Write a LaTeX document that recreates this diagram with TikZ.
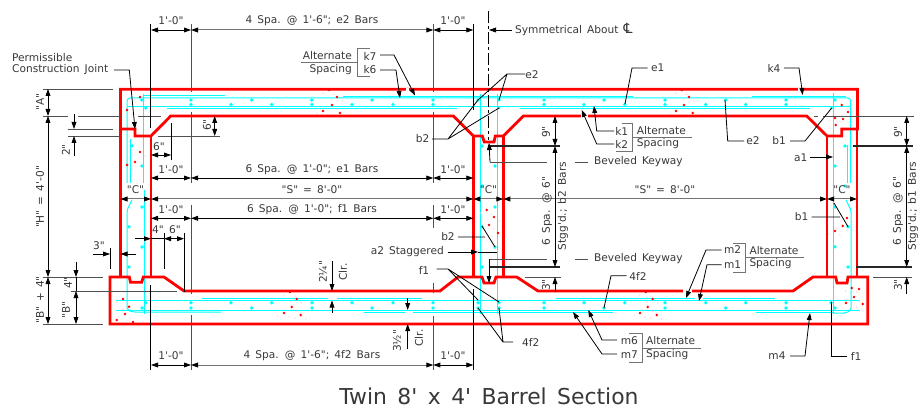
\documentclass[tikz,border=0pt]{standalone}
\usepackage{fontspec}
\usetikzlibrary{arrows.meta}
\newfontfamily\cad{DejaVu Sans}[WordSpace=1.5]
\definecolor{dimgray}{gray}{0.45}
\definecolor{txt}{gray}{0.22}
\definecolor{rebar}{RGB}{0,255,255}
\tikzset{
 concrete/.style={draw=red,line width=2.8pt,line join=miter},
 barline/.style={draw=rebar,line width=1pt},
 barthin/.style={draw=rebar,line width=0.8pt},
 dimline/.style={draw=black,line width=0.8pt},
 dimgrey/.style={draw=dimgray,line width=1pt},
 extline/.style={draw=dimgray!70!black,line width=0.9pt},
 heavy/.style={draw=black!85,line width=1.2pt},
 lead/.style={draw=black,line width=0.8pt},
 tip/.style={-{Triangle[length=7pt,width=4.8pt,color=black]}},
 lab/.style={font=\cad\fontsize{10.6}{10.6}\selectfont,text=txt,inner sep=0pt,anchor=center},
 labl/.style={lab,anchor=west},
 labr/.style={lab,anchor=east},
 rlab/.style={lab,rotate=90},
 both/.style={{Triangle[length=7pt,width=4.8pt,color=black]}-{Triangle[length=7pt,width=4.8pt,color=black]}},
}
\newcommand{\hd}[4][dimline]{\draw[#1,both] (#2,#4) -- (#3,#4);}
\newcommand{\vd}[4][dimline]{\draw[#1,both] (#4,#2) -- (#4,#3);}
\begin{document}
\begin{tikzpicture}[x=1pt,y=-1pt]
\useasboundingbox[fill=white] (0,0) rectangle (919,409);
% rebar
\draw[barline] (143,96) -- (225,96);
\draw[barline,rounded corners=3pt] (127,183) -- (127,98) -- (850.7,98) -- (850.7,183);
\draw[barline] (127,107) -- (851,107);
\draw[barthin] (343,96) -- (633,96) (752,96) -- (846,96);
\draw[barthin] (167,108.7) -- (457,108.7) (520,108.7) -- (810,108.7);
\draw[barline] (143.5,94) -- (143.5,183) (130,139) -- (130,183);
\draw[barline,rounded corners=2pt] (132,200) -- (127,210) -- (127,310) -- (133,312) -- (221,312);
\draw[barline] (144,190) -- (144,314);
\draw[barline] (480,94) -- (480,314) (497,94) -- (497,314);
\draw[barline] (833.3,93) -- (833.3,314) (847,145) -- (847,183);
\draw[barline,rounded corners=2pt] (846,200) -- (851,210) -- (851,310) -- (846,313) -- (833,313);
\draw[barline] (116,300.7) -- (860,300.7) (116,310) -- (860,310);
\draw[barthin] (202,298) -- (328,298) (337,298) -- (421.7,298) (556,298) -- (695,298) (703,298) -- (775,298);
\draw[barthin] (364,312) -- (405,312) (413,312) -- (613,312) (756,312) -- (833,312);
\foreach \p in {141.7,191,251.7,311.7,372,433,478,499,544,604,665,725.7,786,835}{\fill[rebar] (\p,100) circle (1.9pt);}
\foreach \p in {191,231,271.7,312,352,393,433,544,584,624.7,665,705.7,745.7,786}{\fill[rebar] (\p,104.5) circle (1.9pt);}
\fill[rebar] (145.7,108) circle (1.9pt) (499,108) circle (1.5pt) (831.7,108) circle (1.5pt);
\foreach \p/\q in {132/145.7,142/166,142/207,129/226.7,142/247,129/267,482/146,495/166,495/207,482/226.7,495/247,482/267,845/146,835/166,835/207,848/226.7,835/246.7,848/267,482/186,845/186}{\fill[rebar] (\p,\q) circle (1.9pt);}
\foreach \p in {145.7,191,231,271.7,312,352,393,433,478,499,544,584,624.7,665,705.7,745.7,786,831}{\fill[rebar] (\p,302.7) circle (1.9pt);}
\foreach \p in {142,191,251.7,312,372,433,478,499,544,604,665,725.7,786,835}{\fill[rebar] (\p,308) circle (1.9pt);}
% speckles
\foreach \p/\q in {140/97,127/110,140/152,135/162,127/165,123/299,129/306.7,125/314,116.7/320,133/322,329/90,337/97,332/105,323/111,340/113,486.7/210,494/217,489/225,498/233,681.7/90,689/97,684/105,676/111,692.7/113,841.7/105,848/112,835/118,843/119,835.7/125,847/218,835/231,842.7/226,859/289,854/297,862.7/304,846/303,851.7/288,645.7/292,652.7/299,647.7/307,640/313,656.7/315,290/292,296.7/299,291.7/307,284/313,300.7/315}{\fill[red] (\p,\q) circle (1.4pt); \fill[red!25] (\p+5,\q+4) circle (0.6pt); \fill[red!25] (\p-6,\q+3) circle (0.6pt);}
% concrete
\draw[concrete] (120.5,129) -- (120.5,89.3) -- (857.5,89.3) -- (857.5,129) -- (841.7,129) -- (841.7,136) -- (827,136) -- (806.7,116) -- (523.3,116) -- (503.3,136) -- (495.3,136) -- (494,142) -- (484.3,142) -- (482.3,136) -- (473.3,136) -- (453.3,116) -- (170.7,116) -- (151,136) -- (135,136) -- (135,129) -- cycle;
\draw[concrete] (110,277) -- (129.3,277) -- (130.5,282.3) -- (141.7,282.3) -- (143.3,277) -- (164,277) -- (184,291) -- (440,291) -- (458,277) -- (482,277) -- (484,283) -- (494,283) -- (496,277) -- (516.7,277) -- (538,291) -- (793,291) -- (813,277) -- (835.7,277) -- (837,283) -- (847,283) -- (848,277) -- (867.7,277) -- (867.7,324) -- (110,324) -- cycle;
\draw[concrete] (120.5,129) -- (120.5,277) (151,136) -- (151,277) (473.3,136) -- (473.3,277) (503.3,136) -- (503.3,277) (827,136) -- (827,277) (857,129) -- (857,277);
% breaks in concrete
\draw[white,line width=3.4pt] (405.5,89.3) -- (408.5,89.3) (581,116) -- (588,116) (798,89.3) -- (800.5,89.3) (683,291) -- (692,291);
% extension lines
\draw[extline] (43,89) -- (113,89) (43,116) -- (68,116) (78,116) -- (121,116) (138,116) -- (161,116);
\draw[extline] (68,129) -- (113,129) (68,136) -- (119,136) (158,136) -- (220,136);
\draw[extline] (43,277) -- (103,277) (43,324) -- (103,324) (71,291) -- (177,291);
\draw[extline] (525,277) -- (560.7,277) (823,116) -- (914,116) (814,116) -- (818,116) (873,277) -- (912,277);
\draw[heavy] (488,146) -- (560,146) (852.7,146) -- (912.7,146) (490,267) -- (560,267) (856,267) -- (912,267);
% vertical witness lines
\draw[dimline] (150.7,24) -- (150.7,128) (473.3,24) -- (473.3,110) (150.7,285) -- (150.7,370) (473.3,289) -- (473.3,370) (171,123) -- (171,160) (110,248) -- (110,269) (164,233) -- (164,269) (184,233) -- (184,291.7);
\draw[extline] (191,24) -- (191,92) (191,112) -- (191,183) (191,205) -- (191,294) (191,315) -- (191,370);
\draw[extline] (433.3,24) -- (433.3,92) (433.3,112) -- (433.3,183) (433.3,205) -- (433.3,228) (433.3,283) -- (433.3,293) (433.3,316) -- (433.3,370);
\draw[dimline,dash pattern=on 12pt off 3pt on 3pt off 3pt] (488.7,11) -- (488.7,140);
% horizontal dimensions
\hd{151}{191}{30}\hd[dimgrey]{191}{433.3}{30}\hd{433.3}{473.3}{30}
\hd{151}{191}{178}\hd{191}{433.3}{178}\hd{433.3}{473.3}{178}
\hd[dimgrey]{120.5}{151}{199}\hd[dimgrey]{151}{473.3}{199}\hd[dimgrey]{473.3}{503.3}{199}\hd[dimgrey]{503.3}{827}{199}\hd[dimgrey]{827}{857}{199}
\hd{151}{191}{218.3}\hd{191}{433.3}{218.3}\hd{433.3}{473.3}{218.3}
\hd{151}{191}{365}\hd[dimgrey]{191}{433.3}{365}\hd{433.3}{473.3}{365}
\hd{151}{171}{155}
\draw[dimline,tip] (511.7,30) -- (489,30);
\draw[dimline,tip] (135,238.7) -- (151,238.7);
\hd{164}{184}{238.7}
\draw[dimline] (151,238.7) -- (164,238.7);
\draw[dimline,tip] (93,254) -- (110,254);
\draw[dimline,tip] (135.7,254) -- (120.5,254);
% vertical dimensions
\vd{89}{116}{48}\vd{116}{277}{48}\vd{277}{324}{48}
\draw[dimline,tip] (74,114) -- (74,129);
\draw[dimline,tip] (74,156) -- (74,136);
\vd{116}{136}{214.7}
\draw[dimline,tip] (76,262) -- (76,277);
\vd{291}{324}{76}
\draw[dimline] (76,277) -- (76,291);
\vd{116}{146}{555}\vd{146}{267}{555}
\draw[dimline,tip] (555,292) -- (555,277);
\vd{116}{146}{906.7}\vd{146}{267}{906.7}
\draw[dimline,tip] (906.7,294) -- (906.7,277);
\draw[dimline,tip] (332,261) -- (332,291);
\draw[dimline,tip] (332,313) -- (332,300.5);
\draw[dimline,tip] (407.7,297.7) -- (407.7,310);
\draw[dimline,tip] (407.7,349) -- (407.7,324);
% leaders
\draw[lead,tip] (114,70) -- (129.3,70) -- (135,129);
\draw[lead] (432,139) -- (448,139) -- (478,100) (448,139) -- (499,108);
\draw[lead] (525,74) -- (507,74) -- (478,100) (507,74) -- (499,100);
\draw[lead,tip] (380,55) -- (394,55) -- (415,95.5);
\draw[lead,tip] (380,70) -- (396,70) -- (400,98);
\draw[lead] (790,141) -- (805,141) -- (831.7,108);
\draw[lead,tip] (810,157) -- (833,157);
\draw[lead] (647.7,68) -- (632,68) -- (625,104);
\draw[lead,tip] (784,68) -- (799,68) -- (802.7,95);
\draw[lead] (744,141) -- (727.7,141) -- (725,100);
\draw[lead,tip] (614,131) -- (596.7,131) -- (594,106);
\draw[lead,tip] (614,144) -- (596.7,144) -- (581.7,110);
\draw[extline] (546.7,162) -- (490,162);
\draw[dimline,tip] (490,162) -- (489,143);
\draw[extline] (575,162) -- (587.7,162);
\draw[extline] (546.7,259) -- (490,259) (575,259) -- (587.7,259);
\draw[dimline,tip] (489,259) -- (489,283);
\draw[lead,tip] (447.7,252) -- (478,252);
\draw[lead] (478,252) -- (497,252);
\draw[lead] (458,237) -- (485,237) (482,226) -- (495,247);
\draw[lead] (436.7,269) -- (448,269) -- (478,300) (448,269) -- (499,302);
\draw[lead] (513,342) -- (503,342) -- (478,308) (503,342) -- (499,308);
\draw[lead,tip] (721.7,250) -- (706,250) -- (686,298);
\draw[lead,tip] (721.7,264.7) -- (707,264.7) -- (699,301);
\draw[lead,tip] (617,340) -- (602,340) -- (588.3,310);
\draw[lead,tip] (617,354) -- (602,354) -- (573,312);
\draw[lead] (604,308) -- (611,275.7) -- (626.7,275.7);
\draw[lead,tip] (790,356) -- (805,356) -- (810,313);
\draw[lead] (846.7,356) -- (831.7,356) -- (831.7,302);
\draw[lead] (811.7,217) -- (840,217) (834,203) -- (848,226.7);
% brackets
\draw[dimgrey] (370,49) -- (357,49) -- (357,77) -- (370,77) (301,63) -- (357,63);
\draw[dimgrey] (622,124) -- (632,124) -- (632,152) -- (616,152) (632,138) -- (692,138);
\draw[dimgrey] (732.7,243.7) -- (745,243.7) -- (745,272) -- (732.7,272) (745,257) -- (804,257);
\draw[dimgrey] (629,333) -- (642,333) -- (642,362) -- (629,362) (642,348) -- (701,348);
% labels
\node[labl] (pc1) at (12,58) {Permissible};
\node[labl] (pc2) at (12,70) {Construction Joint};
\node[lab] (t1) at (171,21) {1'-0"};
\node[lab] (t2) at (312,21) {4 Spa. @ 1'-6"; e2 Bars};
\node[lab] (t3) at (453,21) {1'-0"};
\node[labl] (t4) at (515,29.5) {Symmetrical About {\fontsize{14}{14}\selectfont ℄}};
\node[lab] (t5) at (171,170) {1'-0"};
\node[lab] (t6) at (312,170) {6 Spa. @ 1'-0"; e1 Bars};
\node[lab] (t7) at (453,170) {1'-0"};
\node[lab] (t8) at (135.5,190) {"C"};
\node[lab] (t9) at (312,190) {"S" = 8'-0"};
\node[lab] (t10) at (488.5,190) {"C"};
\node[lab] (t11) at (665,190) {"S" = 8'-0"};
\node[lab] (t12) at (842,190) {"C"};
\node[lab] (t13) at (171,210) {1'-0"};
\node[lab] (t14) at (312,210) {6 Spa. @ 1'-0"; f1 Bars};
\node[lab] (t15) at (453,210) {1'-0"};
\node[lab] (t16) at (171,356) {1'-0"};
\node[lab] (t17) at (312,356) {4 Spa. @ 1'-6"; 4f2 Bars};
\node[lab] (t18) at (453,356) {1'-0"};
\node[lab] (t19) at (159,147) {6"};
\node[lab] (t20) at (158,230) {4"};
\node[lab] (t21) at (175,230) {6"};
\node[lab] (t22) at (99,246) {3"};
\node[rlab] (r1) at (40,102) {"A"};
\node[rlab] (r2) at (40,197) {"H" = 4'-0"};
\node[rlab] (r3) at (40,300) {"B" + 4"};
\node[rlab] (r4) at (66,150) {2"};
\node[rlab] (r5) at (207,125) {6"};
\node[rlab] (r6) at (68,283) {4"};
\node[rlab] (r7) at (66,310) {"B"};
\node[rlab] (r8) at (546,132) {9"};
\node[rlab] (r9) at (547,211) {6 Spa. @ 6"};
\node[rlab] (r10) at (563,206) {Stgg'd.; b2 Bars};
\node[rlab] (r11) at (546,285) {3"};
\node[rlab] (r12) at (898,132) {9"};
\node[rlab] (r13) at (898,211) {6 Spa. @ 6"};
\node[rlab] (r14) at (913,206) {Stgg'd.; b1 Bars};
\node[rlab] (r15) at (898,285) {3"};
\node[rlab] (r16) at (323,272) {2¼"};
\node[rlab] (r17) at (343,272) {Clr.};
\node[rlab] (r18) at (397,341) {3½"};
\node[rlab] (r19) at (419,338) {Clr.};
\node[labr] (a1) at (352,56) {Alternate};
\node[labr] (a2) at (352,70) {Spacing};
\node[lab] (k7) at (370,56) {k7};
\node[lab] (k6) at (370,70) {k6};
\node[lab] (e2a) at (532,75) {e2};
\node[lab] (b2a) at (422.7,139) {b2};
\node[lab] (b2b) at (448,237) {b2};
\node[labr] (a2s) at (444,252) {a2 Staggered};
\node[lab] (f1a) at (424,270) {f1};
\node[lab] (f2a) at (530.7,342) {4f2};
\node[labl] (bk1) at (594,162) {Beveled Keyway};
\node[labl] (bk2) at (594,259) {Beveled Keyway};
\node[lab] (k1) at (621.7,131) {k1};
\node[lab] (k2) at (621.7,144) {k2};
\node[labl] (a3) at (636.7,131) {Alternate};
\node[labl] (a4) at (636.7,144) {Spacing};
\node[lab] (e1) at (657.7,68) {e1};
\node[lab] (k4) at (774,68) {k4};
\node[lab] (e2b) at (753,141) {e2};
\node[lab] (b1a) at (779,141) {b1};
\node[lab] (a1l) at (800.7,158) {a1};
\node[lab] (b1b) at (801.7,217) {b1};
\node[lab] (m2) at (732.7,250) {m2};
\node[lab] (m1) at (732.7,265) {m1};
\node[labl] (a5) at (749.3,251) {Alternate};
\node[labl] (a6) at (749.3,264) {Spacing};
\node[lab] (f2b) at (638,276) {4f2};
\node[lab] (m6) at (629.3,340.7) {m6};
\node[lab] (m7) at (629.3,355) {m7};
\node[labl] (a7) at (646,341) {Alternate};
\node[labl] (a8) at (646,355) {Spacing};
\node[lab] (m4) at (777,356) {m4};
\node[lab] (f1b) at (856,356) {f1};
\node[lab,font=\cad\fontsize{21.9}{21.9}\selectfont] (title) at (489,396) {Twin 8' x 4' Barrel Section};
\end{tikzpicture}
\end{document}
